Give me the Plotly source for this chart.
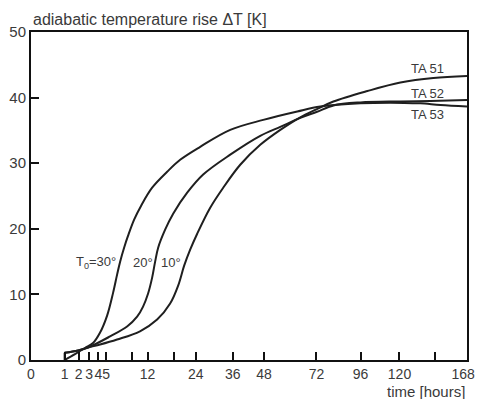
import numpy as np
import plotly.graph_objects as go

# ---- data (hours, adiabatic temperature rise in K) ----
hour_ticks = [0, 1, 2, 3, 4, 5, 9, 12, 18, 24, 36, 48, 72, 96, 120, 144, 168]
hour_tick_labels = ['0', '1', '2', '3', '4', '5', '', '12', '', '24', '36', '48',
                    '72', '96', '120', '', '168\u00a0\u00a0']
y_ticks = [0, 10, 20, 30, 40, 50]

# TA 51 : T0 = 10 deg
ta51_t = [1, 1.96, 2.88, 4.22, 6.55, 10.5, 14.06, 17.11, 19.14, 20.73, 22.39, 24.41,
          28.38, 32.65, 38.69, 46.45, 54.92, 64.1, 72, 80.8, 100, 120.6, 143.1, 168]
ta51_v = [1.1, 1.45, 1.9, 2.36, 3.12, 4.38, 6.16, 8.6, 11.34, 14.38, 16.82, 19.25,
          23.21, 26.26, 29.76, 32.8, 35.08, 37.0, 38.2, 39.4, 41.0, 42.3, 43.0, 43.3]

# TA 52 : T0 = 20 deg
ta52_t = [1, 1.96, 2.88, 5.53, 8.16, 9.95, 11.1, 12.1, 12.97, 13.62, 14.29, 15.9,
          17.86, 21.56, 26.2, 35.08, 46.45, 54.92, 64.1, 72, 80.8, 95.9, 120.6, 141,
          168]
ta52_v = [1.1, 1.45, 1.9, 3.6, 5.1, 6.6, 8.14, 10.1, 12.56, 14.99, 17.12, 19.86,
          22.3, 25.5, 28.27, 31.3, 34.17, 35.54, 36.91, 37.8, 38.8, 39.27, 39.42,
          39.5, 39.65]

# TA 53 : T0 = 30 deg
ta53_t = [1, 1.71, 2.58, 3.4, 4.22, 5.12, 5.96, 6.55, 7.02, 7.66, 8.33, 9.4, 10.72,
          12.97, 16.38, 19.66, 25.3, 35.08, 47.67, 62.67, 74, 95.9, 123.2, 134,
          148.2, 168]
ta53_v = [0, 0.91, 1.83, 2.59, 4.19, 6.77, 10.27, 13.01, 14.99, 17.12, 18.95, 21.39,
          23.52, 26.26, 28.69, 30.52, 32.5, 35.08, 36.6, 37.87, 38.63, 39.12, 39.19,
          39.12, 38.89, 38.66]

LINE = '#1f1f1f'
TEXT = '#3a3a3a'
FONT = 'Liberation Sans, Arial, sans-serif'

fig = go.Figure()
for t, v in [(ta51_t, ta51_v), (ta52_t, ta52_v), (ta53_t, ta53_v)]:
    fig.add_trace(go.Scatter(
        x=np.sqrt(np.array(t, dtype=float)), y=v, mode='lines',
        line=dict(color=LINE, width=2, shape='spline', smoothing=1.0),
        hoverinfo='skip', showlegend=False))

# starting step of the TA 51 record (from zero up to its first value)
fig.add_trace(go.Scatter(
    x=np.sqrt([ta51_t[0], ta51_t[0]]), y=[0, ta51_v[0]], mode='lines',
    line=dict(color=LINE, width=2), hoverinfo='skip', showlegend=False))

annotations = [
    dict(text='TA 51', x=np.sqrt(139), y=44.5),
    dict(text='TA 52', x=np.sqrt(139), y=40.7),
    dict(text='TA 53', x=np.sqrt(139), y=37.35),
    dict(text='T<sub>0</sub>=30°', x=np.sqrt(3.74), y=14.8),
    dict(text='20°', x=np.sqrt(11.1), y=14.8),
    dict(text='10°', x=np.sqrt(17.4), y=14.8),
]
for a in annotations:
    fig.add_annotation(x=a['x'], y=a['y'], text=a['text'], showarrow=False,
                       xanchor='center', yanchor='middle',
                       font=dict(family=FONT, size=13, color=TEXT))

fig.add_annotation(xref='paper', yref='paper', x=0, y=1, yshift=2,
                   text='adiabatic temperature rise ΔT [K]', showarrow=False,
                   xanchor='left', yanchor='bottom',
                   font=dict(family=FONT, size=16, color=TEXT))
fig.add_annotation(xref='paper', yref='paper', x=1, y=0, yshift=-21,
                   text='time [hours]', showarrow=False,
                   xanchor='right', yanchor='top',
                   font=dict(family=FONT, size=15, color=TEXT))

fig.update_layout(
    width=477, height=399,
    margin=dict(l=31, r=10, t=32, b=39),
    paper_bgcolor='white', plot_bgcolor='white',
    font=dict(family=FONT, size=15, color=TEXT),
)
fig.update_xaxes(
    range=[0, np.sqrt(168)], automargin=False,
    tickmode='array', tickvals=np.sqrt(np.array(hour_ticks, dtype=float)),
    ticktext=hour_tick_labels, tickangle=0, ticklabeloverflow='allow',
    ticks='inside', ticklen=8, tickwidth=1.5, tickcolor='#111',
    showline=True, linecolor='#111', linewidth=2, mirror=True,
    showgrid=False, zeroline=False,
    tickfont=dict(family=FONT, size=14, color=TEXT),
)
fig.update_yaxes(
    range=[0, 50], automargin=False,
    tickmode='array', tickvals=y_ticks,
    ticks='inside', ticklen=8, tickwidth=1.5, tickcolor='#111',
    showline=True, linecolor='#111', linewidth=2, mirror=True,
    showgrid=False, zeroline=False,
    tickfont=dict(family=FONT, size=15, color=TEXT),
)

fig.write_html('out.html')
